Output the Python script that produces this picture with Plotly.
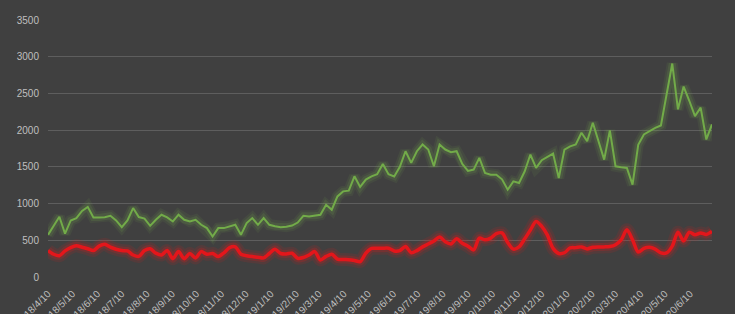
import pandas as pd
import plotly.graph_objects as go

# weekly observations starting 2018-04-10
start_date = "2018-04-10"
n_weeks = 118
dates = pd.date_range(start_date, periods=n_weeks, freq="7D")

green_values = [
    574, 700, 820, 590, 770, 802, 900, 955, 811, 811,
    815, 834, 770, 679, 770, 939, 816, 795, 697, 780,
    848, 811, 756, 848, 779, 756, 779, 711, 666, 551,
    666, 666, 690, 711, 574, 734, 802, 711, 802, 711,
    690, 679, 685, 700, 742, 834, 824, 835, 848, 984,
    916, 1098, 1166, 1176, 1371, 1226, 1326, 1371, 1400, 1540,
    1400, 1370, 1500, 1713, 1554, 1713, 1804, 1736, 1508, 1804,
    1736, 1700, 1713, 1540, 1445, 1463, 1622, 1417, 1394, 1394,
    1330, 1189, 1303, 1280, 1440, 1668, 1486, 1590, 1640, 1681,
    1349, 1736, 1780, 1804, 1964, 1850, 2101, 1850, 1599, 1996,
    1508, 1495, 1486, 1258, 1800, 1941, 1990, 2030, 2064, 2465,
    2907, 2283, 2593, 2400, 2191, 2306, 1873, 2078,
]

red_values = [
    360, 310, 290, 355, 400, 424, 406, 385, 360, 420,
    445, 406, 378, 360, 355, 300, 280, 360, 385, 325,
    300, 360, 250, 346, 250, 320, 260, 346, 310, 320,
    278, 330, 400, 410, 310, 290, 278, 270, 260, 320,
    378, 320, 314, 324, 255, 265, 300, 346, 232, 280,
    310, 245, 238, 235, 225, 210, 324, 390, 390, 392,
    392, 355, 360, 415, 330, 360, 410, 450, 490, 545,
    480, 450, 520, 460, 420, 369, 529, 506, 530, 590,
    600, 470, 380, 410, 520, 640, 756, 690, 570, 390,
    320, 330, 396, 400, 410, 383, 405, 410, 410, 415,
    440, 506, 643, 506, 340, 390, 405, 380, 328, 328,
    420, 610, 490, 610, 575, 600, 580, 620,
]

tick_dates = [
    "2018-04-10", "2018-05-10", "2018-06-10", "2018-07-10", "2018-08-10",
    "2018-09-10", "2018-10-10", "2018-11-10", "2018-12-10", "2019-01-10",
    "2019-02-10", "2019-03-10", "2019-04-10", "2019-05-10", "2019-06-10",
    "2019-07-10", "2019-08-10", "2019-09-10", "2019-10-10", "2019-11-10",
    "2019-12-10", "2020-01-10", "2020-02-10", "2020-03-10", "2020-04-10",
    "2020-05-10", "2020-06-10",
]
tick_labels = [
    "2018/4/10", "2018/5/10", "2018/6/10", "2018/7/10", "2018/8/10",
    "2018/9/10", "2018/10/10", "2018/11/10", "2018/12/10", "2019/1/10",
    "2019/2/10", "2019/3/10", "2019/4/10", "2019/5/10", "2019/6/10",
    "2019/7/10", "2019/8/10", "2019/9/10", "2019/10/10", "2019/11/10",
    "2019/12/10", "2020/1/10", "2020/2/10", "2020/3/10", "2020/4/10",
    "2020/5/10", "2020/6/10",
]

y_ticks = [0, 500, 1000, 1500, 2000, 2500, 3000, 3500]

fig = go.Figure()

# glow layers
for w, op in [(11, 0.08), (7, 0.13)]:
    fig.add_trace(go.Scatter(x=dates, y=green_values, mode="lines",
                             line=dict(color="#7fbf4f", width=w),
                             opacity=op, hoverinfo="skip"))
fig.add_trace(go.Scatter(x=dates, y=green_values, mode="lines",
                         line=dict(color="#72ab49", width=2)))

for w, op in [(13, 0.12), (8, 0.22)]:
    fig.add_trace(go.Scatter(x=dates, y=red_values, mode="lines",
                             line=dict(color="#e01a1a", width=w, shape="spline", smoothing=0.8),
                             opacity=op, hoverinfo="skip"))
fig.add_trace(go.Scatter(x=dates, y=red_values, mode="lines",
                         line=dict(color="#e3161b", width=3.5, shape="spline", smoothing=0.8)))

fig.update_layout(
    width=735, height=314,
    margin=dict(l=48, r=23, t=20, b=37, pad=0),
    paper_bgcolor="#404040", plot_bgcolor="#404040",
    showlegend=False,
    font=dict(family="Liberation Sans, Arial, sans-serif", size=10, color="#bfbfbf"),
)
fig.update_xaxes(
    type="date",
    range=[dates[0], dates[-1]],
    tickmode="array", tickvals=tick_dates, ticktext=tick_labels,
    tickangle=-45, showgrid=False, zeroline=False, showline=False,
    ticks="", tickfont=dict(size=10, color="#bfbfbf"),
    ticklabelstandoff=8, automargin=False,
)
fig.update_yaxes(
    range=[0, 3500], tickmode="array", tickvals=y_ticks,
    showgrid=True, gridcolor="#5e5e5e", gridwidth=1,
    zeroline=False, showline=False, ticks="",
    tickfont=dict(size=10, color="#bfbfbf"),
    ticklabelstandoff=8, automargin=False,
)

fig.write_html("out.html")
